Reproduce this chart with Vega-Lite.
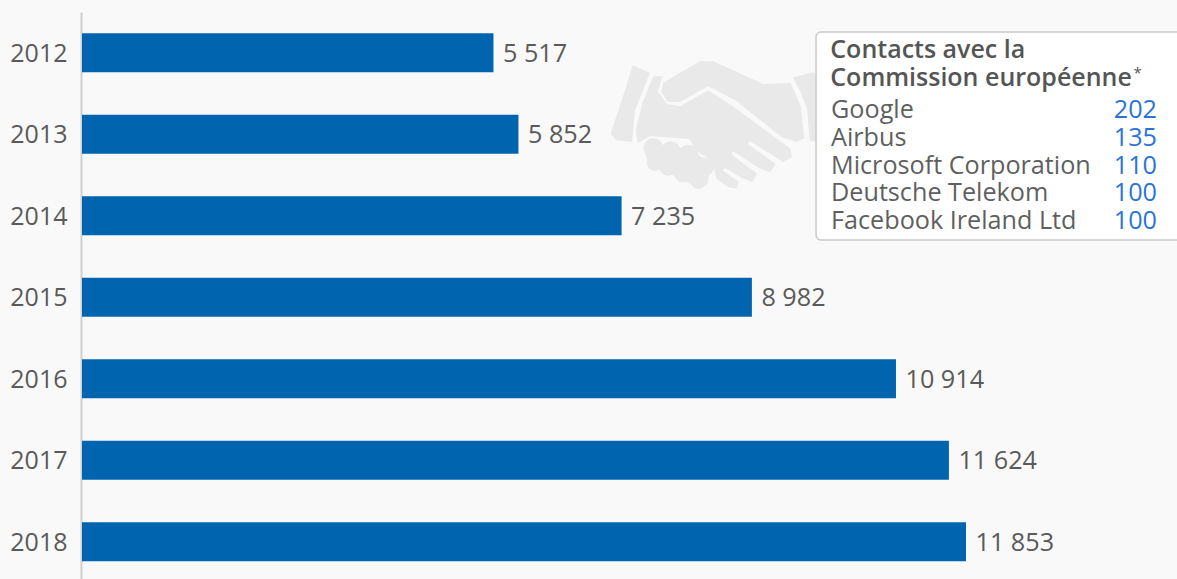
{
  "$schema": "https://vega.github.io/schema/vega-lite/v6.json",
  "width": 1095,
  "height": 579,
  "autosize": {"type": "none"},
  "padding": {"left": 82, "top": 0, "right": 0, "bottom": 0},
  "background": "#f9f9f9",
  "config": {
    "view": {"stroke": null},
    "font": "Open Sans",
    "locale": {"number": {"decimal": ",", "thousands": " ", "grouping": [3], "currency": ["", " €"]}}
  },
  "layer": [
    {
      "data": {"values": [
        {"annee": "2012", "lobbyistes": 5517},
        {"annee": "2013", "lobbyistes": 5852},
        {"annee": "2014", "lobbyistes": 7235},
        {"annee": "2015", "lobbyistes": 8982},
        {"annee": "2016", "lobbyistes": 10914},
        {"annee": "2017", "lobbyistes": 11624},
        {"annee": "2018", "lobbyistes": 11853}
      ]},
      "encoding": {
        "y": {
          "field": "annee",
          "type": "ordinal",
          "title": null,
          "scale": {"range": [12, 582.5], "paddingInner": 0.52, "paddingOuter": 0.26},
          "axis": {
            "ticks": false,
            "offset": 1,
            "labelFont": "Open Sans",
            "labelFontSize": 25,
            "labelColor": "#5a5a5a",
            "labelPadding": 14,
            "labelOffset": 1,
            "domainColor": "#cfcfcf",
            "domainWidth": 2,
            "grid": false
          }
        },
        "x": {
          "field": "lobbyistes",
          "type": "quantitative",
          "axis": null,
          "scale": {"domain": [0, 14682], "nice": false}
        }
      },
      "layer": [
        {"mark": {"type": "bar", "color": "#0064ae"}},
        {
          "mark": {"type": "text", "align": "left", "baseline": "middle", "dx": 9.5, "dy": 1, "font": "Open Sans", "fontSize": 25.2, "color": "#5a5a5a"},
          "encoding": {"text": {"field": "lobbyistes", "type": "quantitative", "format": ",d"}}
        }
      ]
    },
    {
      "layer": [
        {
          "data": {"values": [{"motif": "poignée de main"}]},
          "mark": {
            "type": "point",
            "filled": true,
            "opacity": 1,
            "size": 0.444,
            "color": "#e9e9e9",
            "stroke": "#e9e9e9",
            "strokeWidth": 2,
            "strokeJoin": "round",
            "shape": "M100 50L146 70L102 180L94 273L50 268L35 250L75 130ZM582 85L640 70L665 130L676 260L660 273L632 270L625 180L605 125ZM192 100L300 37L340 37L490 105L570 102L600 170L610 263L590 273L545 258L410 150L325 105L240 153L205 153L187 125ZM162 82L183 82L170 125L200 165L240 172L325 125L395 170L568 297L573 320L550 333L450 270L438 282L523 342L510 363L480 353L400 300L388 312L468 372L455 393L430 383L375 350L363 362L413 397L408 413L385 408L352 385L340 330L290 300L270 265L150 255L115 275L110 240L130 160ZM135 300L165 285L295 320L330 340L320 400L290 410L250 385L200 365L150 345ZM133 295a27 27 0 1 1 54 0a27 27 0 1 1 -54 0ZM184 305a28 28 0 1 1 56 0a28 28 0 1 1 -56 0ZM237 315a28 28 0 1 1 56 0a28 28 0 1 1 -56 0ZM290 350a25 25 0 1 1 50 0a25 25 0 1 1 -50 0ZM143 338a22 22 0 1 1 44 0a22 22 0 1 1 -44 0ZM180 350a25 25 0 1 1 50 0a25 25 0 1 1 -50 0ZM225 370a25 25 0 1 1 50 0a25 25 0 1 1 -50 0ZM273 392a22 22 0 1 1 44 0a22 22 0 1 1 -44 0Z"
          },
          "encoding": {
            "x": {"datum": 6946, "type": "quantitative"},
            "y": {"datum": -1.126, "type": "quantitative", "axis": null, "scale": {"domain": [-1.775, 5.72], "range": [32, 240], "nice": false, "zero": false}}
          }
        },
        {
          "data": {"values": [{"encadre": "contacts"}]},
          "mark": {"type": "rect", "fill": "#ffffff", "stroke": "#c9c9c9", "strokeWidth": 1.5, "cornerRadius": 5},
          "encoding": {
            "x": {"datum": 9842, "type": "quantitative"},
            "x2": {"datum": 14800},
            "y": {"datum": -1.775, "type": "quantitative", "axis": null},
            "y2": {"datum": 5.72}
          }
        },
        {
          "data": {"values": [{"titre": "Contacts avec la"}]},
          "mark": {"type": "text", "align": "left", "baseline": "middle", "dy": 1, "font": "Open Sans", "fontSize": 25, "fontWeight": 600, "color": "#555555"},
          "encoding": {
            "x": {"datum": 10033, "type": "quantitative"},
            "y": {"datum": -1.162, "type": "quantitative", "axis": null},
            "text": {"field": "titre"}
          }
        },
        {
          "data": {"values": [{"titre": "Commission européenne"}]},
          "mark": {"type": "text", "align": "left", "baseline": "middle", "dy": 1, "font": "Open Sans", "fontSize": 25, "fontWeight": 600, "color": "#555555"},
          "encoding": {
            "x": {"datum": 10033, "type": "quantitative"},
            "y": {"datum": -0.153, "type": "quantitative", "axis": null},
            "text": {"field": "titre"}
          }
        },
        {
          "data": {"values": [{"renvoi": "*"}]},
          "mark": {"type": "text", "align": "left", "baseline": "middle", "font": "Open Sans", "fontSize": 15, "color": "#555555"},
          "encoding": {
            "x": {"datum": 14100, "type": "quantitative"},
            "y": {"datum": -0.3, "type": "quantitative", "axis": null},
            "text": {"field": "renvoi"}
          }
        },
        {
          "data": {"values": [
            {"rang": 1, "organisation": "Google", "contacts": 202},
            {"rang": 2, "organisation": "Airbus", "contacts": 135},
            {"rang": 3, "organisation": "Microsoft Corporation", "contacts": 110},
            {"rang": 4, "organisation": "Deutsche Telekom", "contacts": 100},
            {"rang": 5, "organisation": "Facebook Ireland Ltd", "contacts": 100}
          ]},
          "encoding": {
            "y": {"field": "rang", "type": "quantitative", "axis": null}
          },
          "layer": [
            {
              "mark": {"type": "text", "align": "left", "baseline": "middle", "dy": 1, "font": "Open Sans", "fontSize": 25.2, "color": "#5f5f5f"},
              "encoding": {
                "x": {"datum": 10043, "type": "quantitative"},
                "text": {"field": "organisation"}
              }
            },
            {
              "mark": {"type": "text", "align": "right", "baseline": "middle", "dy": 1, "font": "Open Sans", "fontSize": 25.2, "fontWeight": 500, "color": "#2a74d8"},
              "encoding": {
                "x": {"datum": 14414, "type": "quantitative"},
                "text": {"field": "contacts", "type": "quantitative"}
              }
            }
          ]
        }
      ]
    }
  ],
  "resolve": {"scale": {"y": "independent"}}
}
